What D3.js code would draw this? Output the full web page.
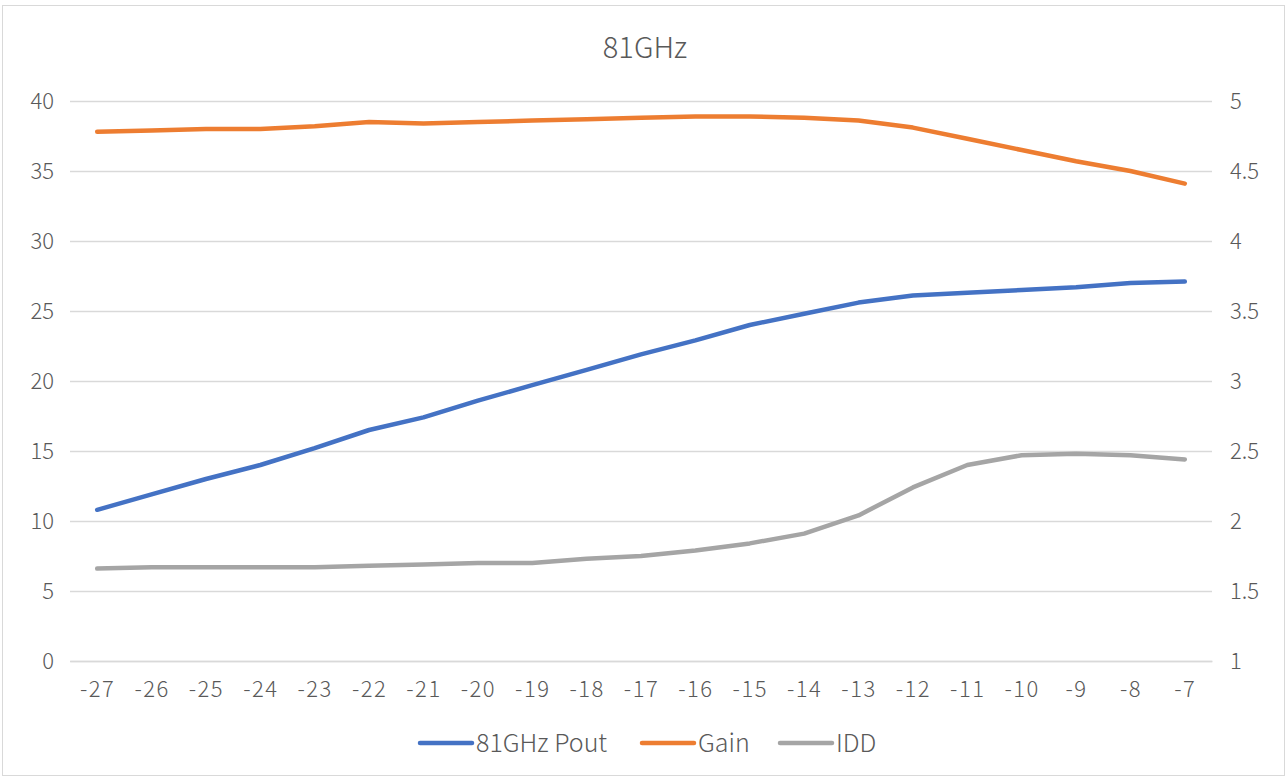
<!DOCTYPE html>
<html>
<head>
<meta charset="utf-8">
<script src="https://cdn.jsdelivr.net/npm/d3@7"></script>
<style>
  html, body { margin: 0; padding: 0; background: #fff; }
  svg text { font-family: "Noto Sans CJK SC", "Noto Sans", sans-serif; font-weight: 300; fill: #595959; }
</style>
</head>
<body>
<svg id="chart" width="1287" height="778"></svg>
<script>
// Input power sweep (x axis categories)
const categories = [-27, -26, -25, -24, -23, -22, -21, -20, -19, -18, -17, -16, -15, -14, -13, -12, -11, -10, -9, -8, -7];

// Output power and gain (left axis)
const pout = [10.8, 11.9, 13.0, 14.0, 15.2, 16.5, 17.4, 18.6, 19.7, 20.8, 21.9, 22.9, 24.0, 24.8, 25.6, 26.1, 26.3, 26.5, 26.7, 27.0, 27.1];
const gain = [37.8, 37.9, 38.0, 38.0, 38.2, 38.5, 38.4, 38.5, 38.6, 38.7, 38.8, 38.9, 38.9, 38.8, 38.6, 38.1, 37.3, 36.5, 35.7, 35.0, 34.1];

// Drain current (right axis)
const idd = [1.66, 1.67, 1.67, 1.67, 1.67, 1.68, 1.69, 1.70, 1.70, 1.73, 1.75, 1.79, 1.84, 1.91, 2.04, 2.24, 2.40, 2.47, 2.48, 2.47, 2.44];

const leftTicks = [0, 5, 10, 15, 20, 25, 30, 35, 40];
const rightTicks = [1, 1.5, 2, 2.5, 3, 3.5, 4, 4.5, 5];

const seriesNames = ["81GHz Pout", "Gain", "IDD"];
const seriesColors = ["#4472C4", "#ED7D31", "#A5A5A5"];

const svg = d3.select("#chart");
const W = 1287, H = 778;
const plot = { left: 70, right: 1212, top: 101, bottom: 661 };

// chart frame
svg.append("rect")
  .attr("x", 2.5).attr("y", 5.5).attr("width", W - 5).attr("height", H - 8)
  .attr("fill", "#fff").attr("stroke", "#D9D9D9").attr("stroke-width", 1);

const x = d3.scalePoint().domain(categories).range([plot.left, plot.right]).padding(0.5);
const yL = d3.scaleLinear().domain([0, 40]).range([plot.bottom, plot.top]);
const yR = d3.scaleLinear().domain([1, 5]).range([plot.bottom, plot.top]);

// horizontal gridlines
svg.append("g")
  .attr("transform", `translate(${plot.left},0)`)
  .call(d3.axisLeft(yL).tickValues(leftTicks).tickSize(-(plot.right - plot.left)).tickFormat(""))
  .call(g => g.select(".domain").remove())
  .call(g => g.selectAll("line").attr("stroke", "#D9D9D9").attr("stroke-width", 1.3));

// left axis labels
svg.append("g")
  .attr("transform", `translate(${plot.left},0)`)
  .call(d3.axisLeft(yL).tickValues(leftTicks).tickSize(0).tickPadding(16).tickFormat(d3.format("d")))
  .call(g => g.select(".domain").remove())
  .call(g => g.selectAll("text").style("font-size", "22px").attr("fill", "#595959"));

// right axis labels
svg.append("g")
  .attr("transform", `translate(${plot.right},0)`)
  .call(d3.axisRight(yR).tickValues(rightTicks).tickSize(0).tickPadding(18).tickFormat(d => d))
  .call(g => g.select(".domain").remove())
  .call(g => g.selectAll("text").style("font-size", "22px").attr("fill", "#595959"));

// category axis
svg.append("g")
  .attr("transform", `translate(0,${plot.bottom})`)
  .call(d3.axisBottom(x).tickSize(0).tickPadding(20))
  .call(g => g.select(".domain").attr("stroke", "#D9D9D9").attr("stroke-width", 1.3))
  .call(g => g.selectAll("text").style("font-size", "22px").style("letter-spacing", "1.5px").attr("fill", "#595959"));

// series lines
const lineL = d3.line().x((d, i) => x(categories[i])).y(d => yL(d));
const lineR = d3.line().x((d, i) => x(categories[i])).y(d => yR(d));

const series = [
  { values: pout, line: lineL },
  { values: gain, line: lineL },
  { values: idd, line: lineR }
];

series.forEach((s, i) => {
  svg.append("path")
    .attr("d", s.line(s.values))
    .attr("fill", "none")
    .attr("stroke", seriesColors[i])
    .attr("stroke-width", 4.5)
    .attr("stroke-linecap", "round")
    .attr("stroke-linejoin", "round");
});

// title
svg.append("text")
  .attr("x", 645).attr("y", 58)
  .attr("text-anchor", "middle")
  .style("font-size", "29px")
  .text("81GHz");

// legend
const legendItems = [
  { x: 418, name: seriesNames[0], color: seriesColors[0] },
  { x: 640, name: seriesNames[1], color: seriesColors[1] },
  { x: 778, name: seriesNames[2], color: seriesColors[2] }
];
const lg = svg.append("g");
legendItems.forEach(it => {
  lg.append("line")
    .attr("x1", it.x + 2).attr("x2", it.x + 54)
    .attr("y1", 743).attr("y2", 743)
    .attr("stroke", it.color).attr("stroke-width", 4.5).attr("stroke-linecap", "round");
  lg.append("text")
    .attr("x", it.x + 58).attr("y", 752)
    .style("font-size", "25px")
    .text(it.name);
});
</script>
</body>
</html>
